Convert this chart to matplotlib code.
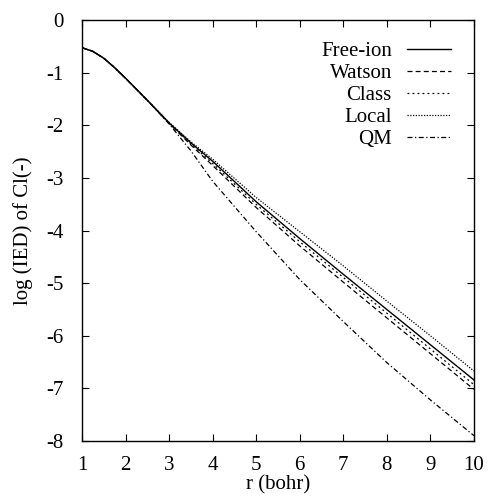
import numpy as np
import matplotlib
matplotlib.use('Agg')
import matplotlib.pyplot as plt

# values (r in bohr, log IED)
r = [1.0, 1.25, 1.5, 1.75, 2.0, 2.5, 3.0, 3.5, 4.0, 5.0, 6.0, 7.0, 8.0, 9.0, 10.0]
free_ion = [-0.52, -0.59, -0.72, -0.90, -1.10, -1.52, -1.95, -2.33, -2.68, -3.45, -4.15, -4.83, -5.50, -6.17, -6.84]
watson = [-0.52, -0.59, -0.72, -0.90, -1.10, -1.52, -1.96, -2.37, -2.76, -3.56, -4.29, -4.98, -5.66, -6.34, -7.02]
klass = [-0.52, -0.59, -0.72, -0.90, -1.10, -1.52, -1.95, -2.35, -2.72, -3.50, -4.21, -4.89, -5.57, -6.25, -6.93]
local = [-0.52, -0.59, -0.72, -0.90, -1.10, -1.52, -1.94, -2.31, -2.64, -3.37, -4.02, -4.67, -5.34, -6.00, -6.67]
qm = [-0.52, -0.59, -0.72, -0.90, -1.10, -1.52, -1.97, -2.48, -3.06, -4.02, -4.93, -5.73, -6.51, -7.22, -7.90]

labels = ['Free-ion', 'Watson', 'Class', 'Local', 'QM']

plt.rcParams['font.family'] = ['Liberation Serif', 'DejaVu Serif']
plt.rcParams['axes.unicode_minus'] = False

fig = plt.figure(figsize=(4.88, 4.97), dpi=100)
ax = fig.add_axes([0.168, 0.113, 0.803, 0.846])

ax.plot(r, free_ion, color='black', lw=1.0, ls='-', label=labels[0])
ax.plot(r, watson, color='black', lw=0.9, ls=(0, (4, 2.5)), label=labels[1])
ax.plot(r, klass, color='black', lw=0.9, ls=(0, (1.5, 2.5)), label=labels[2])
ax.plot(r, local, color='black', lw=0.9, ls=(0, (1, 1.2)), label=labels[3])
ax.plot(r, qm, color='black', lw=0.9, ls=(0, (4, 2, 1, 2)), label=labels[4])

ax.set_xlim(1, 10)
ax.set_ylim(-8, 0)
ax.set_xticks(range(1, 11))
ax.set_yticks(range(-8, 1))
ax.tick_params(direction='in', top=True, right=True, length=5, width=0.8, labelsize=15)
ax.tick_params(axis='x', pad=11)
ax.tick_params(axis='y', pad=13)
ax.set_xlabel('r (bohr)', fontsize=15, labelpad=0)
ax.set_ylabel('log (IED) of Cl(-)', fontsize=15, labelpad=10)
for s in ax.spines.values():
    s.set_linewidth(1.0)

ax.legend(loc='upper right', bbox_to_anchor=(0.962, 0.97), frameon=False,
          markerfirst=False, fontsize=15, handlelength=2.1, handletextpad=0.72,
          labelspacing=0.12, borderaxespad=0)

fig.savefig('out.png', dpi=100)
